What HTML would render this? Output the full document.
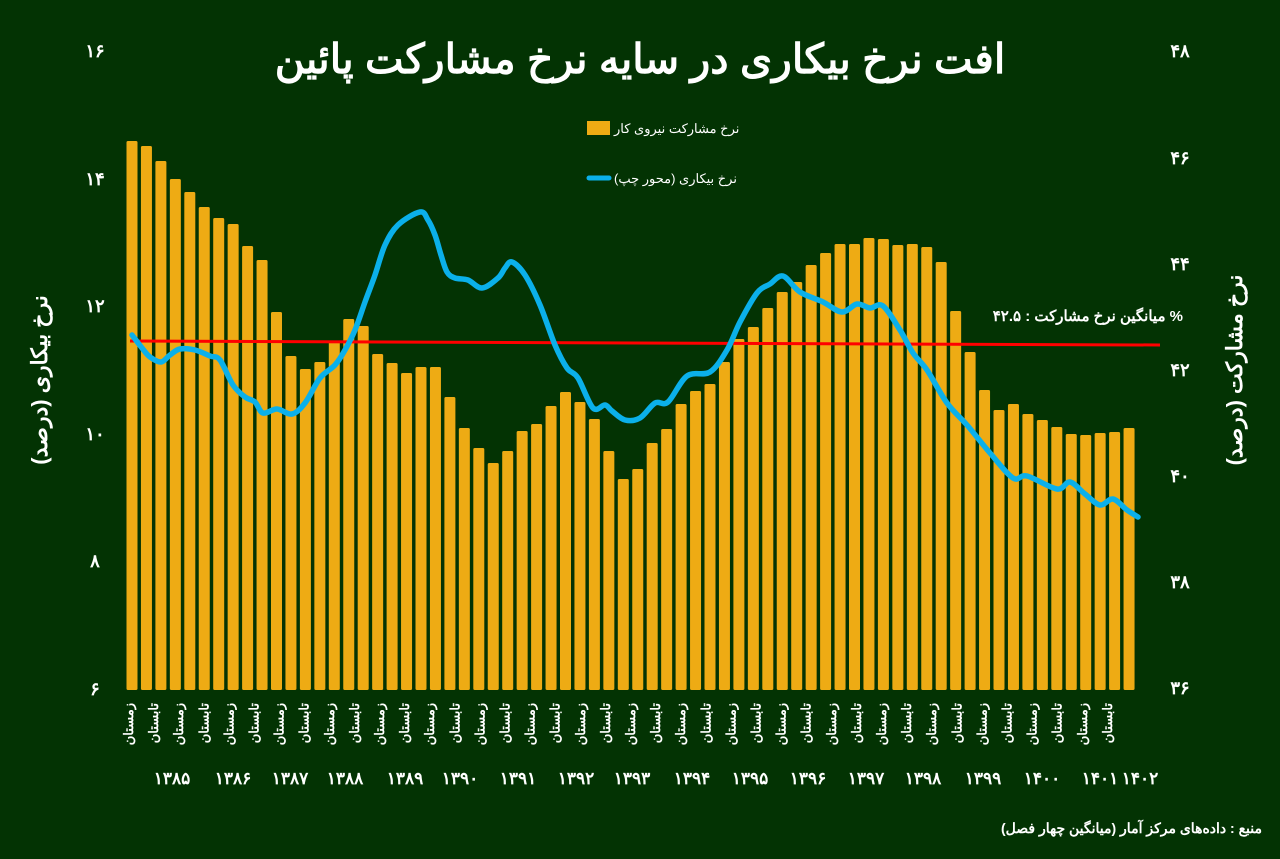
<!DOCTYPE html>
<html><head><meta charset="utf-8"><style>
html,body{margin:0;padding:0;background:#033303;}
svg{display:block;font-family:"Liberation Sans","Noto Sans CJK SC",sans-serif;}
</style></head><body>
<svg width="1280" height="859" viewBox="0 0 1280 859" xmlns="http://www.w3.org/2000/svg">
<rect width="1280" height="859" fill="#033303"/>
<text x="640" y="73" text-anchor="middle" fill="#fff" font-size="41" font-weight="bold" direction="rtl">افت نرخ بیکاری در سایه نرخ مشارکت پائین</text>
<g id="bars" fill="#eeab14"></g>
<line x1="130" y1="341" x2="1160" y2="345" stroke="#ff0000" stroke-width="3"/>
<path id="ln" fill="none" stroke="#0bb0ea" stroke-width="5.5" stroke-linejoin="round" stroke-linecap="round" d=""/>
<rect x="587" y="121" width="23" height="14" fill="#eeab14"/>
<text x="614" y="133" fill="#fff" font-size="13" text-anchor="start" direction="ltr">نرخ مشارکت نیروی کار</text>
<line x1="589" y1="178" x2="609" y2="178" stroke="#0bb0ea" stroke-width="5" stroke-linecap="round"/>
<text x="614" y="183" fill="#fff" font-size="13">نرخ بیکاری (محور چپ)</text>
<text x="1183" y="321" fill="#fff" font-size="15" font-weight="bold" text-anchor="end">میانگین نرخ مشارکت : ۴۲.۵ %</text>
<g fill="#fff" font-size="18" font-weight="bold" text-anchor="middle">
<text x="95" y="57">۱۶</text><text x="95" y="185">۱۴</text><text x="95" y="312">۱۲</text><text x="95" y="440">۱۰</text><text x="95" y="567">۸</text><text x="95" y="695">۶</text>
<text x="1180" y="57">۴۸</text><text x="1180" y="164">۴۶</text><text x="1180" y="270">۴۴</text><text x="1180" y="376">۴۲</text><text x="1180" y="482">۴۰</text><text x="1180" y="588">۳۸</text><text x="1180" y="694">۳۶</text>
</g>
<text transform="translate(47,380) rotate(-90)" fill="#fff" font-size="22" font-weight="bold" text-anchor="middle">نرخ بیکاری (درصد)</text>
<text transform="translate(1242,370) rotate(-90)" fill="#fff" font-size="22" font-weight="bold" text-anchor="middle">نرخ مشارکت (درصد)</text>
<g id="seasons" fill="#fff" font-size="13" font-weight="bold"></g>
<g fill="#fff" font-size="17" font-weight="bold" text-anchor="middle">
<text x="172" y="784">۱۳۸۵</text><text x="233" y="784">۱۳۸۶</text><text x="290" y="784">۱۳۸۷</text><text x="345" y="784">۱۳۸۸</text><text x="405" y="784">۱۳۸۹</text><text x="460" y="784">۱۳۹۰</text><text x="518" y="784">۱۳۹۱</text><text x="576" y="784">۱۳۹۲</text><text x="632" y="784">۱۳۹۳</text><text x="692" y="784">۱۳۹۴</text><text x="750" y="784">۱۳۹۵</text><text x="808" y="784">۱۳۹۶</text><text x="866" y="784">۱۳۹۷</text><text x="923" y="784">۱۳۹۸</text><text x="983" y="784">۱۳۹۹</text><text x="1042" y="784">۱۴۰۰</text><text x="1100" y="784">۱۴۰۱</text><text x="1140" y="784">۱۴۰۲</text>
</g>
<text x="1262" y="833" fill="#fff" font-size="14" font-weight="bold" text-anchor="end">منبع : داده‌های مرکز آمار (میانگین چهار فصل)</text>
</svg>
<script>
var tops=[141,146,161,179,192,207,218,224,246,260,312,356,369,362,341,319,326,354,363,373,367,367,397,428,448,463,451,431,424,406,392,402,419,451,479,469,443,429,404,391,384,362,339,327,308,292,282,265,253,244,244,238,239,245,244,247,262,311,352,390,410,404,414,420,427,434,435,433,432,428];
var g=document.getElementById('bars'),ns='http://www.w3.org/2000/svg';
tops.forEach(function(t,i){var r=document.createElementNS(ns,'rect');var cx=132+i*14.45;r.setAttribute('x',cx-5.5);r.setAttribute('y',t);r.setAttribute('width',11);r.setAttribute('height',690-t);r.setAttribute('rx',1.5);g.appendChild(r);});
var s=document.getElementById('seasons');
for(var i=0;i<40;i++){var x=133+i*25.1;var t=document.createElementNS(ns,'text');t.setAttribute('transform','translate('+x+',703) rotate(-90)');t.setAttribute('text-anchor','end');t.textContent=(i%2==0)?'زمستان':'تابستان';s.appendChild(t);}
var p=[[132,335],[142,348],[150,357],[161,362],[170,355],[180,349],[195,350],[210,356],[220,360],[233,385],[245,397],[255,402],[263,413],[277,409],[292,414],[305,403],[320,378],[335,365],[345,350],[355,330],[365,302],[375,275],[385,245],[398,225],[420,212],[428,220],[435,235],[441,255],[447,272],[455,278],[468,280],[482,288],[498,278],[505,268],[512,262],[525,275],[540,305],[555,345],[567,368],[578,378],[593,408],[605,405],[612,411],[625,420],[640,418],[655,403],[668,402],[687,376],[710,372],[727,350],[740,322],[757,293],[770,284],[783,276],[800,292],[823,302],[842,312],[857,304],[870,308],[883,306],[900,330],[913,353],[927,370],[947,403],[967,425],[990,453],[1013,478],[1027,476],[1057,489],[1070,482],[1085,494],[1100,505],[1113,499],[1127,510],[1138,517]];
var d='M'+p[0][0]+','+p[0][1];
for(var i=0;i<p.length-1;i++){var p0=p[i-1]||p[i],p1=p[i],p2=p[i+1],p3=p[i+2]||p2;
var c1x=p1[0]+(p2[0]-p0[0])/6,c1y=p1[1]+(p2[1]-p0[1])/6,c2x=p2[0]-(p3[0]-p1[0])/6,c2y=p2[1]-(p3[1]-p1[1])/6;
d+=' C'+c1x.toFixed(1)+','+c1y.toFixed(1)+' '+c2x.toFixed(1)+','+c2y.toFixed(1)+' '+p2[0]+','+p2[1];}
document.getElementById('ln').setAttribute('d',d);
</script>
</body></html>
